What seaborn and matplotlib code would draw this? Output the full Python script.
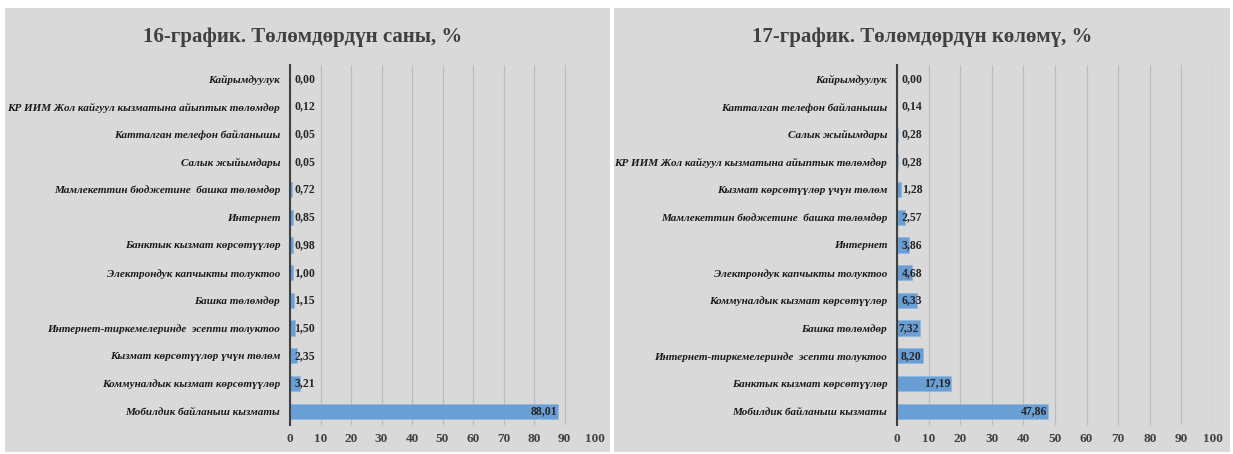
import seaborn as sns
import matplotlib.pyplot as plt
import pandas as pd
from matplotlib.patches import Rectangle

cats_left = [
    "Кайрымдуулук",
    "КР ИИМ Жол кайгуул кызматына айыптык төлөмдөр",
    "Катталган телефон байланышы",
    "Салык жыйымдары",
    "Мамлекеттин бюджетине  башка төлөмдөр",
    "Интернет",
    "Банктык кызмат көрсөтүүлөр",
    "Электрондук капчыкты толуктоо",
    "Башка төлөмдөр",
    "Интернет-тиркемелеринде  эсепти толуктоо",
    "Кызмат көрсөтүүлөр үчүн төлөм",
    "Коммуналдык кызмат көрсөтүүлөр",
    "Мобилдик байланыш кызматы",
]
vals_left = [0.00, 0.12, 0.05, 0.05, 0.72, 0.85, 0.98, 1.00, 1.15, 1.50, 2.35, 3.21, 88.01]

cats_right = [
    "Кайрымдуулук",
    "Катталган телефон байланышы",
    "Салык жыйымдары",
    "КР ИИМ Жол кайгуул кызматына айыптык төлөмдөр",
    "Кызмат көрсөтүүлөр үчүн төлөм",
    "Мамлекеттин бюджетине  башка төлөмдөр",
    "Интернет",
    "Электрондук капчыкты толуктоо",
    "Коммуналдык кызмат көрсөтүүлөр",
    "Башка төлөмдөр",
    "Интернет-тиркемелеринде  эсепти толуктоо",
    "Банктык кызмат көрсөтүүлөр",
    "Мобилдик байланыш кызматы",
]
vals_right = [0.00, 0.14, 0.28, 0.28, 1.28, 2.57, 3.86, 4.68, 6.33, 7.32, 8.20, 17.19, 47.86]

titles = ["16-график. Төлөмдөрдүн саны, %", "17-график. Төлөмдөрдүн көлөмү, %"]
xticks = [0, 10, 20, 30, 40, 50, 60, 70, 80, 90, 100]

sns.set_style("white")
plt.rcParams['font.family'] = ['Liberation Serif', 'DejaVu Serif']

W, H = 1233, 454
fig = plt.figure(figsize=(W / 100, H / 100), dpi=100)
fig.patch.set_facecolor("white")
bg = "#d9d9d9"
fig.patches.append(Rectangle((5 / W, 2 / H), 605 / W, 444 / H, transform=fig.transFigure,
                             facecolor=bg, edgecolor="none", zorder=-10))
fig.patches.append(Rectangle((614 / W, 2 / H), 616 / W, 444 / H, transform=fig.transFigure,
                             facecolor=bg, edgecolor="none", zorder=-10))

ax_l = fig.add_axes([290 / W, 1 - 425 / H, 305 / W, 360 / H])
ax_r = fig.add_axes([897 / W, 1 - 425 / H, 316 / W, 360 / H])

panels = [(ax_l, cats_left, vals_left, 303), (ax_r, cats_right, vals_right, 922)]
for i, (ax, cats, vals, tx) in enumerate(panels):
    df = pd.DataFrame({"cat": cats, "val": vals})
    sns.barplot(data=df, x="val", y="cat", ax=ax, color="#6a9fd6", saturation=1,
                width=0.55, edgecolor="#8db8e3", linewidth=0.5, zorder=3)
    ax.set_facecolor("none")
    ax.set_xlim(0, 100)
    ax.set_xticks(xticks)
    ax.set_xticklabels([str(t) for t in xticks], fontsize=9.5, fontweight="bold", color="#404040")
    ax.set_yticks(range(len(cats)))
    ax.set_yticklabels(cats, fontsize=8, fontweight="bold", fontstyle="italic", color="#1a1a1a")
    ax.tick_params(axis="x", length=0, pad=6)
    ax.tick_params(axis="y", length=0, pad=7)
    ax.set_xlabel("")
    ax.set_ylabel("")
    ax.grid(axis="x", color="#bdbdbd", linewidth=0.9, zorder=0)
    for s in ["top", "right", "bottom"]:
        ax.spines[s].set_visible(False)
    ax.spines["left"].set_color("#404040")
    ax.spines["left"].set_linewidth(1.5)
    ax.spines["left"].set_zorder(5)
    for j, v in enumerate(vals):
        lab = f"{v:.2f}".replace(".", ",")
        if v > 7:
            ax.text(v - 0.4, j, lab, ha="right", va="center", fontsize=8.5, fontweight="bold", zorder=6)
        else:
            ax.text(1.5, j, lab, ha="left", va="center", fontsize=8.5, fontweight="bold", zorder=6)
    fig.text(tx / W, 1 - 37 / H, titles[i], ha="center", va="center", fontsize=15,
             fontweight="bold", color="#404040")

fig.savefig("out.png", dpi=100)
